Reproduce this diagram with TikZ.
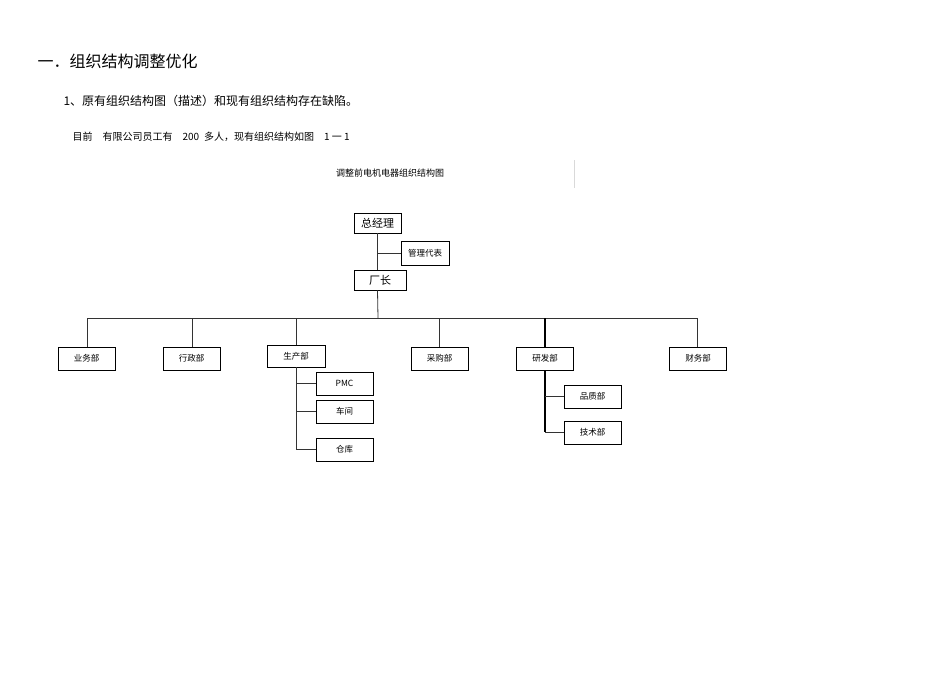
\documentclass[tikz,border=0pt]{standalone}
\usepackage{fontspec}
\setmainfont{Noto Sans CJK SC}
\begin{document}
\begin{tikzpicture}[x=1pt,y=-1pt,
 bx/.style={draw,line width=0.8pt,inner sep=0pt,font=\fontsize{8.5}{9}\selectfont},
 ln/.style={line width=0.8pt,draw=black!80}]
\useasboundingbox (0,0) rectangle (950,672);
\node[anchor=west,font=\fontsize{16}{18}\selectfont] (t1) at (34,61) {一．组织结构调整优化};
\node[anchor=west,font=\fontsize{12}{14}\selectfont] (t2) at (60,101) {1、原有组织结构图（描述）和现有组织结构存在缺陷。};
\node[anchor=west,font=\fontsize{10}{11}\selectfont] (t3) at (69,137) {目前\quad 有限公司员工有\quad 200\enspace 多人，现有组织结构如图\quad 1 一 1};
\node[font=\fontsize{9}{10}\selectfont] (cap) at (390,173) {调整前电机电器组织结构图};
\draw[black!15] (574,160) -- (574,188);
\node[bx,minimum width=47,minimum height=20,font=\fontsize{11}{12}\selectfont] (gm) at (377.5,223) {总经理};
\node[bx,minimum width=48,minimum height=24] (rep) at (425,253) {管理代表};
\node[bx,minimum width=52,minimum height=20,font=\fontsize{11}{12}\selectfont] (cz) at (380,280) {厂长};
\foreach \n/\x/\t in {yw/86.5/业务部,xz/191.5/行政部,cg/439.5/采购部,yf/545/研发部,cw/698/财务部}
  \node[bx,minimum width=57,minimum height=23] (\n) at (\x,358.5) {\t};
\node[bx,minimum width=58,minimum height=22] (sc) at (296,356) {生产部};
\node[bx,minimum width=57,minimum height=23] (pmc) at (344.5,383.5) {PMC};
\node[bx,minimum width=57,minimum height=23] (cj) at (344.5,411.5) {车间};
\node[bx,minimum width=57,minimum height=23] (ck) at (344.5,449.5) {仓库};
\node[bx,minimum width=57,minimum height=23] (pz) at (592.5,396.5) {品质部};
\node[bx,minimum width=57,minimum height=23] (js) at (592.5,432.5) {技术部};
\coordinate (hl) at (87,318); \coordinate (hr) at (697,318);
\draw[ln] (gm.south) -- (cz.north -| gm.south);
\draw[ln] (378,253) -- (rep.west);
\draw[ln] (cz.south -| gm.south) -- (378,318);
\draw[ln] (hl) -- (hr);
\foreach \n/\x in {yw/87,xz/192,sc/296,cg/439,cw/697} \draw[ln] (\x,318) -- (\n.north -| \x,0);
\draw[line width=1.2pt] (545,318) -- (yf.north);
\draw[ln] (sc.south) -- (296,450);
\foreach \n in {pmc,cj,ck} \draw[ln] (\n.west -| 296,0) -- (\n.west);
\draw[line width=1.1pt] (yf.south) -- (545,432);
\foreach \n in {pz,js} \draw[ln] (\n.west -| 545,0) -- (\n.west);
\end{tikzpicture}
\end{document}
